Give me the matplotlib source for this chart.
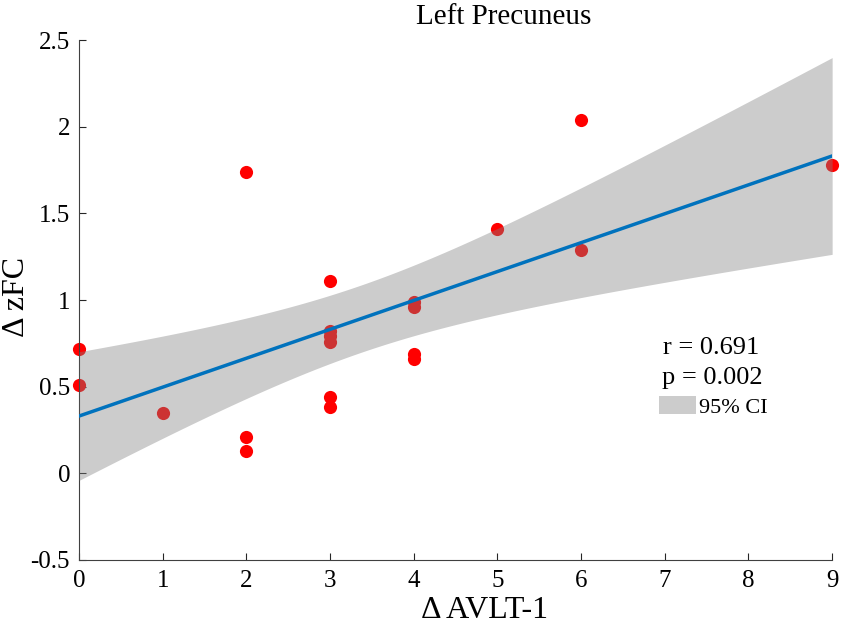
import numpy as np
import matplotlib
matplotlib.use('Agg')
import matplotlib.pyplot as plt
from matplotlib.patches import Patch

plt.rcParams['font.family'] = ['Liberation Serif', 'DejaVu Serif']

# change in AVLT-1 score vs change in zFC
avlt = [0, 0, 1, 2, 2, 2, 3, 3, 3, 3, 3, 3, 4, 4, 4, 4, 5, 6, 6, 9]
zfc = [0.72, 0.51, 0.35, 1.74, 0.21, 0.13, 1.11, 0.82, 0.79, 0.76, 0.44, 0.38,
       0.99, 0.96, 0.69, 0.66, 1.41, 2.04, 1.29, 1.78]
r_text = 'r = 0.691'
p_text = 'p = 0.002'

x = np.array(avlt, dtype=float)
y = np.array(zfc)
n = len(x)

# linear fit + 95% CI of the mean
slope, intercept = np.polyfit(x, y, 1)
xs = np.linspace(0, 9, 200)
fit = intercept + slope * xs
resid = y - (intercept + slope * x)
s = np.sqrt(np.sum(resid ** 2) / (n - 2))
t_crit = 2.101  # t(0.975, df=18)
se = s * np.sqrt(1.0 / n + (xs - x.mean()) ** 2 / np.sum((x - x.mean()) ** 2))
lower = fit - t_crit * se
upper = fit + t_crit * se

fig = plt.figure(figsize=(8.5, 6.29), dpi=100)
ax = fig.add_axes([0.093, 0.1097, 0.886, 0.8267])

ax.scatter(x, y, s=90, color='red', zorder=2, clip_on=False, linewidths=0)
ax.fill_between(xs, lower, upper, color='0.5', alpha=0.4, linewidth=0, zorder=3)
ax.plot(xs, fit, color='#0072BD', linewidth=2.5, zorder=4)

ax.set_xlim(0, 9)
ax.set_ylim(-0.5, 2.5)
ax.set_xticks(range(0, 10))
ax.set_yticks([-0.5, 0, 0.5, 1, 1.5, 2, 2.5])
ax.set_yticklabels(['-0.5', '0', '0.5', '1', '1.5', '2', '2.5'])
ax.tick_params(direction='in', length=5, width=0.8, labelsize=18, colors='#262626',
               labelcolor='black')
ax.tick_params(axis='y', pad=6.5)
ax.tick_params(axis='x', pad=7)

for side in ['top', 'right']:
    ax.spines[side].set_visible(False)
for side in ['left', 'bottom']:
    ax.spines[side].set_color('#404040')
    ax.spines[side].set_linewidth(0.8)

ax.set_title('Left Precuneus', fontsize=21, x=0.564, pad=11.5)
ax.set_xlabel('\u0394 AVLT-1', fontsize=23)
ax.xaxis.set_label_coords(0.539, -0.07)
ax.set_ylabel('\u0394 zFC', fontsize=23)
ax.yaxis.set_label_coords(-0.064, 0.505)

ax.text(0.839, 0.408, r_text, transform=ax.transAxes, fontsize=19, ha='center', va='center')
ax.text(0.841, 0.350, p_text, transform=ax.transAxes, fontsize=19, ha='center', va='center')

leg = ax.legend(handles=[Patch(facecolor='0.8', edgecolor='none', label='95% CI')],
                loc='center left', bbox_to_anchor=(0.770, 0.294), frameon=False,
                fontsize=16, handlelength=1.67, handleheight=0.86, handletextpad=0.15,
                borderpad=0, borderaxespad=0)

fig.savefig('out.png', dpi=100)
